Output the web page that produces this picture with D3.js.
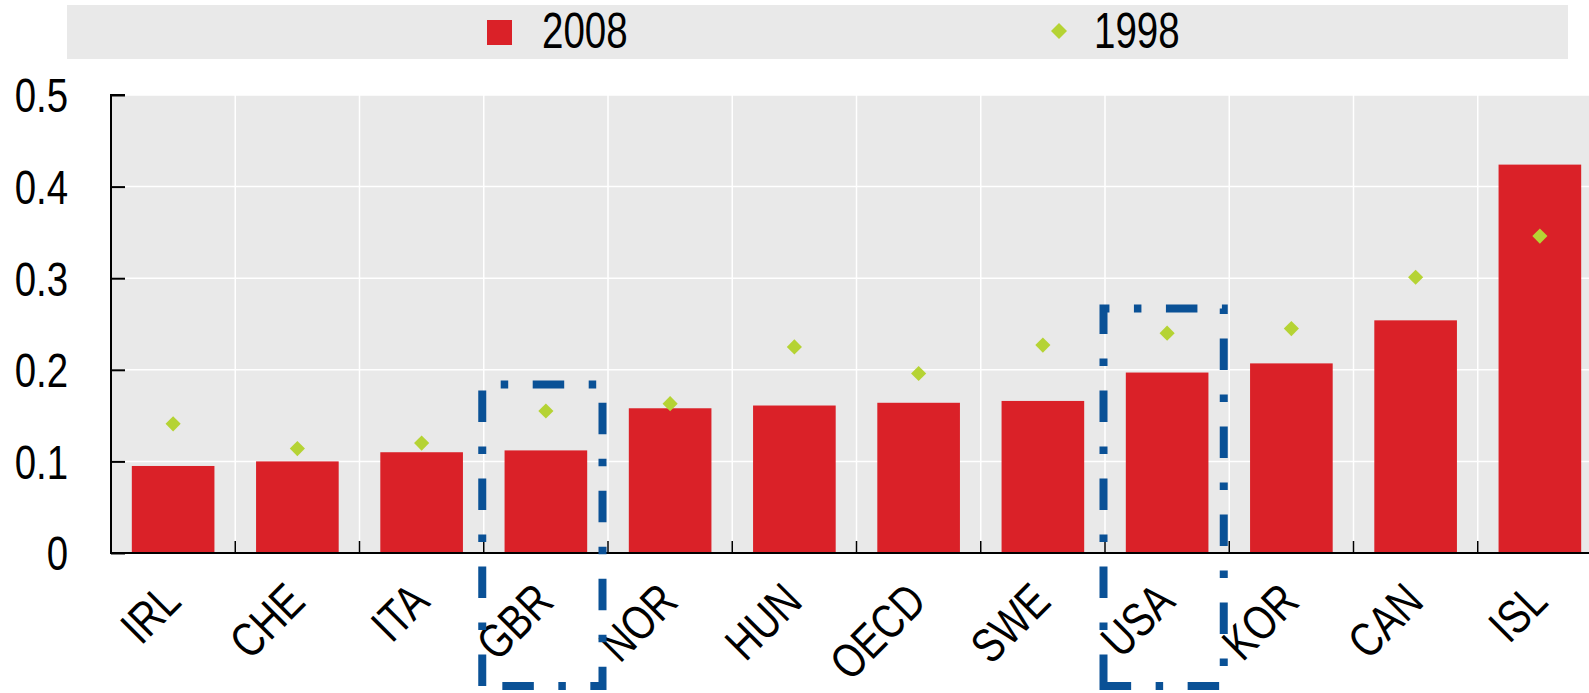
<!DOCTYPE html>
<html>
<head>
<meta charset="utf-8">
<script src="https://cdn.jsdelivr.net/npm/d3@7"></script>
<style>
  body { margin: 0; background: #fff; }
  svg text { font-family: "Liberation Sans", Arial, sans-serif; fill: #000; }
</style>
</head>
<body>
<div id="barChart"></div>
<script>
var countries = ["IRL", "CHE", "ITA", "GBR", "NOR", "HUN", "OECD", "SWE", "USA", "KOR", "CAN", "ISL"]
var values2008 = [0.095, 0.100, 0.110, 0.112, 0.158, 0.161, 0.164, 0.166, 0.197, 0.207, 0.254, 0.424]
var values1998 = [0.141, 0.114, 0.120, 0.155, 0.163, 0.225, 0.196, 0.227, 0.240, 0.245, 0.301, 0.346]
var yTicks = [0, 0.1, 0.2, 0.3, 0.4, 0.5]
var seriesNames = ["2008", "1998"]
// highlighted countries and the top of their dashed box (in y units)
var highlight = ["GBR", "USA"]
var highlightTop = [0.184, 0.267]

var width = 1589
var height = 693
var margin = {top: 95, left: 111, bottom: 140}
var plotBottom = height - margin.bottom   // 553
var narrow = "scale(0.8,1)"   // no narrow font installed, squeeze instead

var svg = d3.select("#barChart")
    .append("svg")
    .attr("width", width)
    .attr("height", height)

// legend strip
svg.append("rect")
    .attr("x", 67).attr("y", 5)
    .attr("width", 1501).attr("height", 54)
    .style("fill", "#e9e9e9")

svg.append("rect")
    .attr("x", 487).attr("y", 20)
    .attr("width", 25).attr("height", 25)
    .style("fill", "#da2128")
svg.append("text")
    .attr("transform", "translate(542,48) scale(0.77,1)")
    .style("font-size", "50px")
    .text(seriesNames[0])

svg.append("path")
    .attr("d", d3.symbol().type(d3.symbolSquare).size(128)())
    .attr("transform", "translate(1059,31) rotate(45)")
    .style("fill", "#b5d334")
svg.append("text")
    .attr("transform", "translate(1094,48) scale(0.77,1)")
    .style("font-size", "50px")
    .text(seriesNames[1])

// scales: bands run past the right edge like in the original
var x = d3.scaleBand()
    .domain(countries)
    .range([margin.left, margin.left + 124.25 * countries.length])
    .paddingInner(0.335)
    .paddingOuter(0.1675)

var y = d3.scaleLinear()
    .domain([0, 0.5])
    .range([plotBottom, margin.top])

// plot background
svg.append("rect")
    .attr("x", margin.left).attr("y", y(0.5))
    .attr("width", width - margin.left).attr("height", plotBottom - y(0.5))
    .style("fill", "#e9e9e9")

// horizontal grid
svg.append("g")
    .selectAll("line")
    .data(yTicks.slice(1))
    .enter().append("line")
    .attr("x1", margin.left).attr("x2", width)
    .attr("y1", function(d) { return y(d); })
    .attr("y2", function(d) { return y(d); })
    .style("stroke", "#fff")
    .style("stroke-width", "1.5px")

// vertical grid at band boundaries
var step = x.step()
var boundaries = countries.slice(1).map(function(d) { return x(d) - x.paddingInner() * step / 2 })
svg.append("g")
    .selectAll("line")
    .data(boundaries)
    .enter().append("line")
    .attr("x1", function(d) { return d; })
    .attr("x2", function(d) { return d; })
    .attr("y1", y(0.5)).attr("y2", plotBottom)
    .style("stroke", "#fff")
    .style("stroke-width", "1.5px")

// bars
svg.selectAll("bar")
    .data(countries)
    .enter().append("rect")
    .attr("class", "bar")
    .style("fill", "#da2128")
    .attr("x", function(d) { return x(d); })
    .attr("width", x.bandwidth())
    .attr("y", function(d, i) { return y(values2008[i]); })
    .attr("height", function(d, i) { return plotBottom - y(values2008[i]); })

// 1998 markers
svg.selectAll("marker98")
    .data(countries)
    .enter().append("path")
    .attr("d", d3.symbol().type(d3.symbolSquare).size(115)())
    .attr("transform", function(d, i) {
        return "translate(" + (x(d) + x.bandwidth() / 2) + "," + y(values1998[i]) + ") rotate(45)"
    })
    .style("fill", "#b5d334")

// x axis ticks (inside) and line
svg.append("g")
    .selectAll("line")
    .data(boundaries)
    .enter().append("line")
    .attr("x1", function(d) { return d; })
    .attr("x2", function(d) { return d; })
    .attr("y1", plotBottom - 12).attr("y2", plotBottom)
    .style("stroke", "#000")
    .style("stroke-width", "1.5px")

svg.append("line")
    .attr("x1", margin.left - 1).attr("x2", width)
    .attr("y1", plotBottom).attr("y2", plotBottom)
    .style("stroke", "#000")
    .style("stroke-width", "2px")

// y axis
var yAxis = svg.append("g")
    .attr("transform", "translate(" + margin.left + ",0)")
    .call(d3.axisRight(y).tickValues(yTicks).tickSize(14).tickFormat(function(d) { return d; }))
yAxis.select(".domain")
    .attr("d", "M14," + y(0.5) + "H0V" + (plotBottom + 1))
    .style("stroke-width", "2px")
yAxis.selectAll(".tick line").style("stroke-width", "2px")
yAxis.selectAll(".tick text")
    .attr("x", 0)
    .attr("dy", "0.35em")
    .attr("transform", "translate(-43,0) " + narrow)
    .style("text-anchor", "end")
    .style("font-size", "48px")
    .style("font-family", null)

// x labels, rotated
svg.append("g")
    .selectAll("text")
    .data(countries)
    .enter().append("text")
    .attr("transform", function(d) {
        return "translate(" + (x(d) + x.bandwidth() / 2 + 10) + "," + 604 + ") rotate(-45) " + narrow
    })
    .style("text-anchor", "end")
    .style("font-size", "48px")
    .text(function(d) { return d; })

// dashed highlight boxes, drawn clockwise from the bottom-left corner
svg.append("g")
    .selectAll("path")
    .data(highlight)
    .enter().append("path")
    .attr("d", function(d, i) {
        var left = x(d) - x.paddingInner() * step / 2 - 1.5
        var right = left + step - 4
        var top = y(highlightTop[i])
        var bottom = 686
        return "M" + left + "," + bottom + "V" + top + "H" + right + "V" + bottom + "Z"
    })
    .style("fill", "none")
    .style("stroke", "#0a5196")
    .style("stroke-width", "8px")
    .style("stroke-dasharray", "31.5,24.5,7.5,24.5")
</script>
</body>
</html>
